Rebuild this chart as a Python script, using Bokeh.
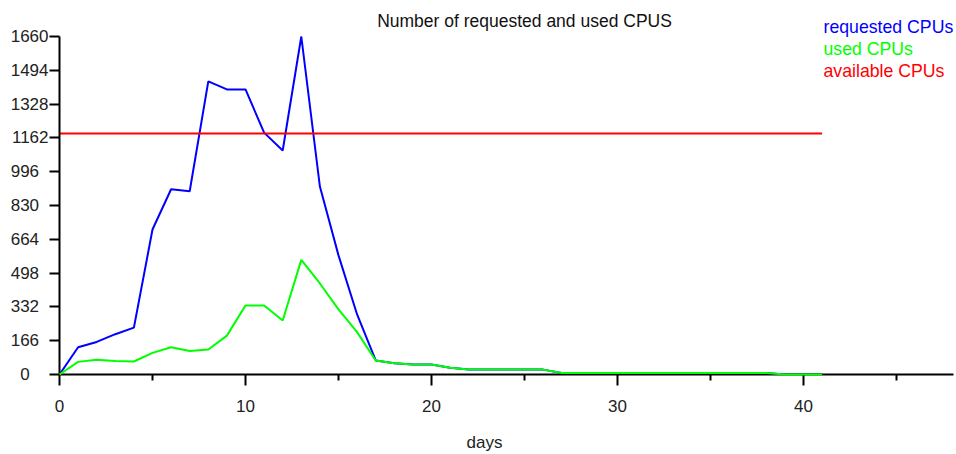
from bokeh.plotting import figure
from bokeh.models import Range1d, FixedTicker, Label, Title
from bokeh.embed import file_html
from bokeh.resources import INLINE

# ---- data ----
days = list(range(0, 42))
used = [0, 62, 72, 66, 64, 106, 134, 115, 123, 191,
        339, 339, 265, 563, 447, 320, 208, 69, 55, 49,
        49, 33, 24, 24, 24, 24, 24, 7, 7, 7,
        7, 7, 7, 7, 7, 7, 7, 7, 7, 0,
        0, 0]
requested_head = [0, 134, 160, 198, 230, 712, 910, 900, 1440, 1400,
                  1400, 1188, 1100, 1660, 923, 585, 295]
requested = requested_head + used[len(requested_head):]
available_days = [0, 41]
available = [1184, 1184]

y_ticks = [0, 166, 332, 498, 664, 830, 996, 1162, 1328, 1494, 1660]
y_tick_labels = ["0", "166", "332", "498", "664", "830", "996", "1162", "1328", "1494", "1660"]
x_ticks = [0, 10, 20, 30, 40]
x_minor = [5, 15, 25, 35, 45]

title_text = "Number of requested and used CPUS"
legend_items = [("requested CPUs", "#0000ff"), ("used CPUs", "#00ff00"), ("available CPUs", "#ff0000")]
x_label = "days"

SANS = "Liberation Sans"
W, H = 956, 454
LEFT, BOTTOM = 59, 374          # frame left / x-axis position on the canvas
PX_PER_DAY = 18.6
PX_PER_CPU = 338 / 1660.0
BASE_FIX = 7                     # label baseline calibration
FIG_SPACE = "\u2007"

p = figure(width=W, height=H, output_backend="svg", toolbar_location=None,
           x_range=Range1d(0, (W - LEFT) / PX_PER_DAY),
           y_range=Range1d(0, BOTTOM / PX_PER_CPU),
           min_border_left=LEFT, min_border_right=0, min_border_top=0,
           min_border_bottom=H - BOTTOM)
p.outline_line_color = None
p.xgrid.visible = False
p.ygrid.visible = False
p.background_fill_color = "white"
p.border_fill_color = "white"

p.line(days, requested, line_color="#0000ff", line_width=2)
g = p.line(days, used, line_color="#00ff00", line_width=2)
g.level = "overlay"
p.line(available_days, available, line_color="#ff0000", line_width=2)

for ax in (p.xaxis[0], p.yaxis[0]):
    ax.axis_line_color = "black"
    ax.axis_line_width = 2
    ax.major_tick_line_color = "black"
    ax.major_tick_line_width = 2
    ax.minor_tick_line_color = "black"
    ax.minor_tick_line_width = 2
    ax.major_tick_in = 0
    ax.minor_tick_in = 0
    ax.major_label_text_font = SANS
    ax.major_label_text_font_size = "17px"
    ax.major_label_text_color = "#222222"

p.xaxis.ticker = FixedTicker(ticks=x_ticks, minor_ticks=x_minor)
p.xaxis.bounds = (0, 48.06)
p.xaxis.major_tick_out = 11
p.xaxis.minor_tick_out = 6
p.xaxis.major_label_standoff = 14
# a blank spacer below the tick labels pushes the "days" title down a little
p.xaxis.axis_label = FIG_SPACE
p.xaxis.axis_label_text_font_size = "8px"
p.xaxis.axis_label_standoff = 3

p.yaxis.ticker = FixedTicker(ticks=y_ticks, minor_ticks=[])
p.yaxis.bounds = (0, 1660)
p.yaxis.major_tick_out = 10
p.yaxis.minor_tick_out = 0
p.yaxis.major_label_standoff = 1
# labels sit like the reference's: shorter labels are padded on the right with figure spaces
p.yaxis.major_label_overrides = {t: lab + FIG_SPACE * min(2, 4 - len(lab))
                                 for t, lab in zip(y_ticks, y_tick_labels)}

# title and legend texts inside the (tall) frame; screen units relative to the frame
p.add_layout(Label(x=524 - LEFT, y=BOTTOM - 27 + BASE_FIX, x_units="screen", y_units="screen",
                   text=title_text, text_font=SANS, text_font_size="17.5px",
                   text_align="center", text_baseline="alphabetic", text_color="#111111"))
for i, (txt, col) in enumerate(legend_items):
    p.add_layout(Label(x=823 - LEFT, y=BOTTOM - (33 + 22 * i) + BASE_FIX,
                       x_units="screen", y_units="screen", text=txt,
                       text_font=SANS, text_font_size="17.7px", text_align="left",
                       text_baseline="alphabetic", text_color=col))

p.add_layout(Title(text=x_label, align="left", vertical_align="bottom", offset=466 - LEFT,
                   text_font=SANS, text_font_size="17px", text_font_style="normal",
                   text_color="#222222", standoff=3), "below")

open("out.html", "w").write(file_html(p, INLINE))
